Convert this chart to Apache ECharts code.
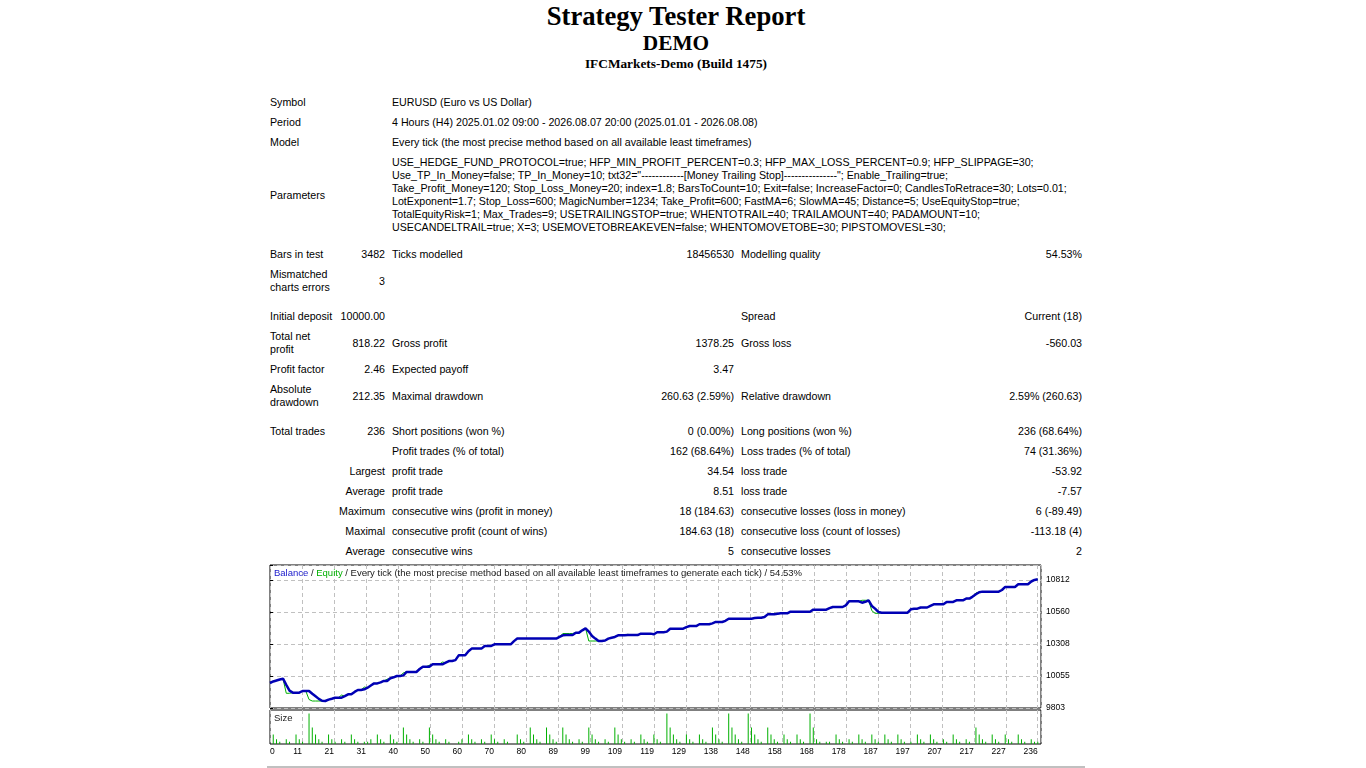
<!DOCTYPE html>
<html>
<head>
<meta charset="utf-8">
<title>Strategy Tester: DEMO</title>
<script src="https://cdn.jsdelivr.net/npm/echarts@6/dist/echarts.min.js"></script>
<style>
html,body{margin:0;padding:0;background:#fff;}
body{height:1400px;position:relative;}
.t{position:absolute;left:266px;width:820px;text-align:center;font-family:"Liberation Serif","Times New Roman",serif;font-weight:bold;color:#000;white-space:nowrap;}
#t1{top:2.7px;font-size:26.67px;line-height:26.67px;}
#t2{top:33.1px;font-size:21.33px;line-height:21.33px;}
#t3{top:57.3px;font-size:13.33px;line-height:13.33px;}
#rep{position:absolute;left:266px;top:92px;width:820px;border-collapse:separate;border-spacing:1px;table-layout:fixed;}
#rep td{font-family:"Liberation Sans",Arial,sans-serif;font-size:10.667px;line-height:13px;padding:3px;white-space:nowrap;vertical-align:middle;color:#000;overflow:visible;}
#rep td.r{text-align:right;}
#rep tr.s6 td{height:6px;padding:0;line-height:0;font-size:0;}
#rep tr.s8 td{height:8px;padding:0;line-height:0;font-size:0;}
#chart{position:absolute;left:266px;top:561px;width:820px;height:200px;}
#hdr{position:absolute;left:267px;top:766px;width:818px;height:19px;background:#c0c0c0;}
</style>
</head>
<body>
<div class="t" id="t1">Strategy Tester Report</div>
<div class="t" id="t2">DEMO</div>
<div class="t" id="t3">IFCMarkets-Demo (Build 1475)</div>

<table id="rep">
<colgroup><col style="width:68px"><col style="width:52px"><col style="width:211px"><col style="width:136px"><col style="width:212px"><col style="width:134px"></colgroup>
<tr><td colspan="2">Symbol</td><td colspan="4">EURUSD (Euro vs US Dollar)</td></tr>
<tr><td colspan="2">Period</td><td colspan="4">4 Hours (H4) 2025.01.02 09:00 - 2026.08.07 20:00 (2025.01.01 - 2026.08.08)</td></tr>
<tr><td colspan="2">Model</td><td colspan="4">Every tick (the most precise method based on all available least timeframes)</td></tr>
<tr><td colspan="2">Parameters</td><td colspan="4">USE_HEDGE_FUND_PROTOCOL=true; HFP_MIN_PROFIT_PERCENT=0.3; HFP_MAX_LOSS_PERCENT=0.9; HFP_SLIPPAGE=30;<br>Use_TP_In_Money=false; TP_In_Money=10; txt32="------------[Money Trailing Stop]---------------"; Enable_Trailing=true;<br>Take_Profit_Money=120; Stop_Loss_Money=20; index=1.8; BarsToCount=10; Exit=false; IncreaseFactor=0; CandlesToRetrace=30; Lots=0.01;<br>LotExponent=1.7; Stop_Loss=600; MagicNumber=1234; Take_Profit=600; FastMA=6; SlowMA=45; Distance=5; UseEquityStop=true;<br>TotalEquityRisk=1; Max_Trades=9; USETRAILINGSTOP=true; WHENTOTRAIL=40; TRAILAMOUNT=40; PADAMOUNT=10;<br>USECANDELTRAIL=true; X=3; USEMOVETOBREAKEVEN=false; WHENTOMOVETOBE=30; PIPSTOMOVESL=30;</td></tr>
<tr class="s6"><td colspan="6"></td></tr>
<tr><td>Bars in test</td><td class="r">3482</td><td>Ticks modelled</td><td class="r">18456530</td><td>Modelling quality</td><td class="r">54.53%</td></tr>
<tr><td>Mismatched<br>charts errors</td><td class="r">3</td><td></td><td></td><td></td><td></td></tr>
<tr class="s8"><td colspan="6"></td></tr>
<tr><td>Initial deposit</td><td class="r">10000.00</td><td></td><td></td><td>Spread</td><td class="r">Current (18)</td></tr>
<tr><td>Total net<br>profit</td><td class="r">818.22</td><td>Gross profit</td><td class="r">1378.25</td><td>Gross loss</td><td class="r">-560.03</td></tr>
<tr><td>Profit factor</td><td class="r">2.46</td><td>Expected payoff</td><td class="r">3.47</td><td></td><td></td></tr>
<tr><td>Absolute<br>drawdown</td><td class="r">212.35</td><td>Maximal drawdown</td><td class="r">260.63 (2.59%)</td><td>Relative drawdown</td><td class="r">2.59% (260.63)</td></tr>
<tr class="s8"><td colspan="6"></td></tr>
<tr><td>Total trades</td><td class="r">236</td><td>Short positions (won %)</td><td class="r">0 (0.00%)</td><td>Long positions (won %)</td><td class="r">236 (68.64%)</td></tr>
<tr><td></td><td></td><td>Profit trades (% of total)</td><td class="r">162 (68.64%)</td><td>Loss trades (% of total)</td><td class="r">74 (31.36%)</td></tr>
<tr><td></td><td class="r">Largest</td><td>profit trade</td><td class="r">34.54</td><td>loss trade</td><td class="r">-53.92</td></tr>
<tr><td></td><td class="r">Average</td><td>profit trade</td><td class="r">8.51</td><td>loss trade</td><td class="r">-7.57</td></tr>
<tr><td></td><td class="r">Maximum</td><td>consecutive wins (profit in money)</td><td class="r">18 (184.63)</td><td>consecutive losses (loss in money)</td><td class="r">6 (-89.49)</td></tr>
<tr><td></td><td class="r">Maximal</td><td>consecutive profit (count of wins)</td><td class="r">184.63 (18)</td><td>consecutive loss (count of losses)</td><td class="r">-113.18 (4)</td></tr>
<tr><td></td><td class="r">Average</td><td>consecutive wins</td><td class="r">5</td><td>consecutive losses</td><td class="r">2</td></tr>
</table>

<div id="chart"></div>
<div id="hdr"></div>

<script>
// ---- data ----
// x tick labels (trade numbers shown under the chart)
const xTickLabels = ['0','11','21','31','40','50','60','70','80','89','99','109','119','129','138','148','158','168','178','187','197','207','217','227','236'];

// balance after each trade (index = trade number, 0 = initial deposit)
const balance = [
 10000,10012,10020,10028,10034,9985,9940,9924,9924,9924,
 9937,9937,9937,9915,9895,9875,9860,9858,9869,9876,
 9884,9884,9884,9896,9911,9911,9930,9945,9945,9950,
 9963,9980,9997,9997,10005,10016,10016,10037,10045,10055,
 10055,10060,10087,10087,10087,10087,10110,10129,10129,10129,
 10147,10147,10147,10147,10160,10173,10173,10180,10218,10218,
 10218,10250,10271,10271,10271,10271,10292,10292,10292,10305,
 10305,10305,10305,10305,10305,10330,10350,10350,10350,10350,
 10350,10350,10350,10350,10350,10350,10350,10350,10350,10363,
 10376,10378,10378,10378,10397,10397,10415,10431,10405,10371,
 10350,10331,10331,10335,10350,10357,10363,10376,10376,10376,
 10378,10378,10378,10378,10389,10389,10389,10389,10384,10400,
 10400,10400,10405,10428,10428,10428,10428,10428,10440,10449,
 10449,10449,10463,10463,10463,10463,10470,10481,10481,10481,
 10490,10507,10507,10507,10507,10507,10507,10507,10507,10512,
 10515,10515,10520,10541,10541,10541,10545,10549,10549,10549,
 10562,10562,10562,10562,10562,10562,10562,10578,10578,10578,
 10578,10578,10590,10599,10599,10599,10599,10612,10644,10644,
 10644,10644,10633,10640,10652,10607,10586,10560,10554,10554,
 10554,10554,10554,10554,10554,10554,10554,10581,10586,10586,
 10595,10595,10595,10608,10620,10620,10620,10620,10639,10639,
 10639,10652,10652,10652,10665,10665,10681,10699,10715,10720,
 10720,10720,10720,10720,10720,10733,10757,10757,10757,10757,
 10778,10778,10778,10778,10800,10812,10818
];

// equity after each trade
const equity = [
 10000,10012,10020,10028,10034,9919,9919,9924,9924,9924,
 9937,9937,9870,9858,9858,9858,9858,9858,9869,9876,
 9884,9884,9905,9896,9911,9911,9930,9945,9945,9968,
 9963,9980,9997,9997,10005,10016,10030,10037,10045,10055,
 10055,10080,10087,10087,10087,10087,10110,10129,10129,10140,
 10147,10147,10147,10165,10160,10173,10173,10180,10218,10218,
 10218,10250,10271,10271,10271,10271,10292,10292,10292,10305,
 10305,10305,10305,10305,10305,10330,10350,10350,10350,10350,
 10350,10350,10350,10350,10350,10350,10350,10350,10350,10363,
 10390,10390,10390,10390,10397,10397,10415,10431,10331,10331,
 10331,10331,10331,10335,10350,10357,10363,10376,10376,10376,
 10384,10378,10378,10378,10389,10389,10389,10389,10384,10400,
 10400,10400,10405,10428,10428,10428,10428,10428,10440,10449,
 10449,10449,10463,10463,10463,10463,10470,10481,10481,10481,
 10490,10507,10507,10507,10507,10507,10507,10507,10507,10512,
 10515,10515,10520,10541,10541,10549,10545,10549,10549,10549,
 10562,10562,10562,10562,10562,10562,10562,10578,10578,10578,
 10578,10578,10590,10599,10599,10599,10599,10612,10644,10644,
 10644,10644,10652,10652,10652,10570,10549,10549,10554,10554,
 10554,10554,10554,10554,10554,10554,10554,10581,10586,10586,
 10595,10595,10595,10608,10620,10620,10620,10620,10639,10639,
 10639,10652,10652,10652,10665,10665,10681,10710,10715,10720,
 10720,10720,10720,10720,10720,10733,10757,10757,10757,10757,
 10782,10778,10778,10778,10800,10812,10818
];

// lot size of trades 1..236
const sizes = [
 0.05,0.03,0.02,0.01,0.03,0.02,0.01,0.05,0.03,0.02,
 0.01,0.14,0.08,0.05,0.03,0.02,0.01,0.05,0.03,0.02,
 0.01,0.03,0.02,0.01,0.05,0.03,0.02,0.01,0.02,0.02,
 0.03,0.01,0.05,0.03,0.02,0.01,0.05,0.03,0.02,0.01,
 0.08,0.05,0.03,0.02,0.01,0.03,0.02,0.01,0.08,0.05,
 0.03,0.02,0.01,0.03,0.02,0.01,0.01,0.02,0.03,0.01,
 0.05,0.03,0.02,0.01,0.03,0.02,0.01,0.05,0.03,0.02,
 0.01,0.03,0.02,0.01,0.01,0.05,0.03,0.02,0.01,0.08,
 0.05,0.03,0.02,0.01,0.08,0.05,0.03,0.02,0.01,0.08,
 0.05,0.03,0.02,0.01,0.03,0.02,0.01,0.08,0.05,0.03,
 0.02,0.01,0.03,0.02,0.01,0.08,0.05,0.03,0.02,0.01,
 0.03,0.02,0.01,0.05,0.03,0.02,0.01,0.05,0.03,0.02,
 0.01,0.14,0.08,0.05,0.03,0.02,0.01,0.05,0.03,0.02,
 0.01,0.05,0.03,0.02,0.01,0.08,0.05,0.03,0.02,0.01,
 0.14,0.08,0.05,0.03,0.02,0.01,0.14,0.08,0.05,0.03,
 0.02,0.01,0.08,0.05,0.03,0.02,0.01,0.05,0.03,0.02,
 0.01,0.05,0.03,0.02,0.01,0.14,0.08,0.03,0.02,0.01,
 0.02,0.02,0.01,0.05,0.03,0.02,0.01,0.03,0.02,0.01,
 0.05,0.03,0.02,0.01,0.05,0.03,0.02,0.01,0.05,0.03,
 0.02,0.01,0.05,0.03,0.02,0.01,0.02,0.01,0.05,0.03,
 0.02,0.01,0.05,0.03,0.02,0.01,0.03,0.02,0.01,0.05,
 0.03,0.02,0.01,0.03,0.02,0.01,0.08,0.05,0.03,0.02,
 0.01,0.05,0.03,0.02,0.01,0.05,0.03,0.02,0.01,0.05,
 0.03,0.02,0.01,0.03,0.02,0.02
];

const tradeCount = 236;
const yMin = 9803, yStep = 252.25, yMax = 10930;
const sizeMin = 0.01, sizeMax = 0.155;

const FONT = '"Liberation Sans", Arial, sans-serif';
const xStep = tradeCount / (xTickLabels.length - 1);
const fmtX = v => {
  const k = Math.round(v / xStep);
  return (k < xTickLabels.length && Math.abs(v - k * xStep) < 1e-3) ? xTickLabels[k] : '';
};
const fmtY = v => {
  const k = (v - yMin) / yStep;
  return Math.abs(k - Math.round(k)) < 1e-3 ? String(Math.round(v)) : '';
};
const dash = { color: '#c0c0c0', width: 1, type: [4, 3] };

const chart = echarts.init(document.getElementById('chart'), null, { renderer: 'canvas' });
chart.setOption({
  animation: false,
  backgroundColor: '#fff',
  textStyle: { fontFamily: FONT },
  title: [
    {
      left: 8, top: 7, padding: 0,
      text: '{b|Balance}{s| / }{e|Equity}{s| / Every tick (the most precise method based on all available least timeframes to generate each tick) / 54.53%}',
      textStyle: {
        fontSize: 9.5, fontWeight: 'normal', fontFamily: FONT,
        rich: {
          b: { color: '#1a1acc', fontSize: 9.5, fontFamily: FONT },
          e: { color: '#00b000', fontSize: 9.5, fontFamily: FONT },
          s: { color: '#202020', fontSize: 9.5, fontFamily: FONT }
        }
      }
    },
    {
      left: 8, top: 152, padding: 0, text: 'Size',
      textStyle: { fontSize: 9.5, fontWeight: 'normal', color: '#202020', fontFamily: FONT }
    }
  ],
  grid: [
    { left: 4, top: 4, width: 771, height: 143, show: true, borderColor: '#000', borderWidth: 1, backgroundColor: 'transparent', outerBoundsMode: 'none', containLabel: false },
    { left: 4, top: 149, width: 771, height: 34, show: true, borderColor: '#000', borderWidth: 1, backgroundColor: 'transparent', outerBoundsMode: 'none', containLabel: false }
  ],
  xAxis: [
    {
      gridIndex: 0, type: 'value', min: 0, max: 237, interval: xStep,
      axisLine: { show: false }, axisTick: { show: false }, axisLabel: { show: false },
      splitLine: { show: true, lineStyle: dash }
    },
    {
      gridIndex: 1, type: 'value', min: 0, max: 237, interval: xStep,
      axisLine: { show: false }, axisTick: { show: false },
      axisLabel: {
        show: true, formatter: fmtX, color: '#000', fontSize: 8.5, fontFamily: FONT,
        margin: 3, align: 'right', alignMinLabel: 'left', showMaxLabel: true, hideOverlap: false
      },
      splitLine: { show: true, lineStyle: dash }
    }
  ],
  yAxis: [
    {
      gridIndex: 0, type: 'value', position: 'right', min: yMin, max: yMax, interval: yStep,
      axisLine: { show: false },
      axisTick: { show: true, length: 3, lineStyle: { color: '#000' } },
      axisLabel: { show: true, formatter: fmtY, color: '#000', fontSize: 8.5, fontFamily: FONT, margin: 5, hideOverlap: false },
      splitLine: { show: true, lineStyle: dash }
    },
    {
      gridIndex: 1, type: 'value', min: sizeMin, max: sizeMax,
      axisLine: { show: false }, axisTick: { show: false }, axisLabel: { show: false },
      splitLine: { show: false }
    }
  ],
  series: [
    {
      name: 'Equity', type: 'line', xAxisIndex: 0, yAxisIndex: 0,
      data: equity.map((v, i) => [i, v]),
      showSymbol: false, symbol: 'none', z: 2,
      lineStyle: { color: '#00b000', width: 1 }
    },
    {
      name: 'Balance', type: 'line', xAxisIndex: 0, yAxisIndex: 0,
      data: balance.map((v, i) => [i, v]),
      showSymbol: false, symbol: 'none', z: 3,
      lineStyle: { color: '#0000b4', width: 2.5 }
    },
    {
      name: 'Size', type: 'bar', xAxisIndex: 1, yAxisIndex: 1,
      data: sizes.map((v, i) => [i + 1, v]),
      barWidth: 1, clip: true,
      itemStyle: { color: '#00b000' }
    }
  ]
});
</script>
</body>
</html>
